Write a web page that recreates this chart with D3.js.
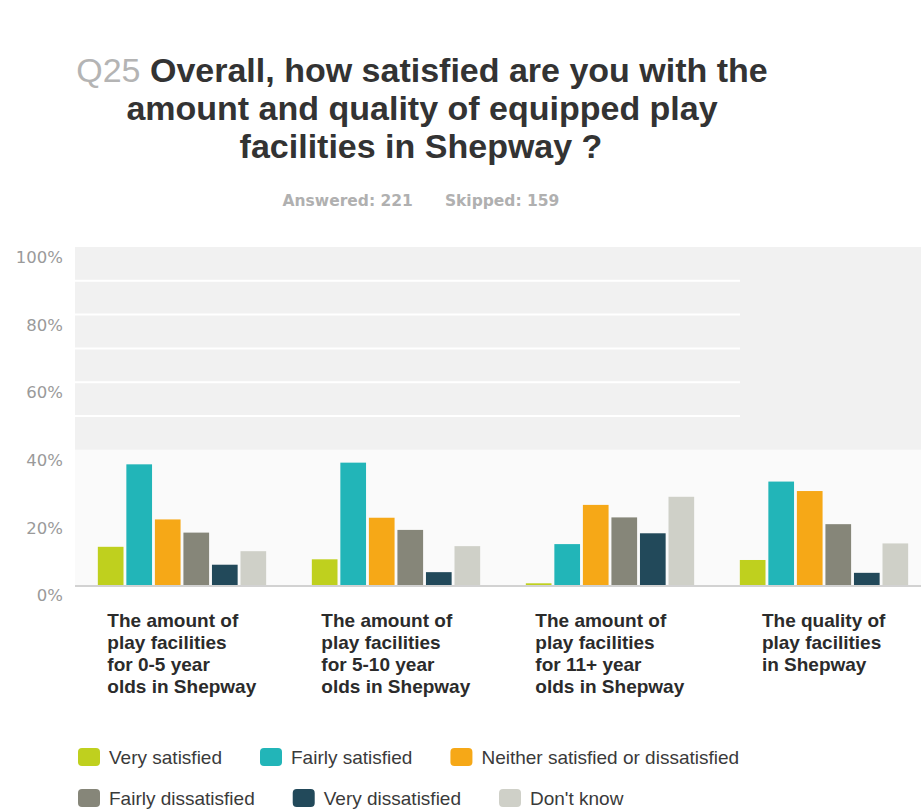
<!DOCTYPE html>
<html>
<head>
<meta charset="utf-8">
<script src="https://cdn.jsdelivr.net/npm/d3@7"></script>
<style>
  body { margin: 0; background: #fff; }
  svg { display: block; }
</style>
</head>
<body>
<svg id="chart" width="921" height="812"></svg>
<script>
// Survey question Q25: share of answers per facility group (percent)
const categories = [
  ["The amount of", "play facilities", "for 0-5 year", "olds in Shepway"],
  ["The amount of", "play facilities", "for 5-10 year", "olds in Shepway"],
  ["The amount of", "play facilities", "for 11+ year", "olds in Shepway"],
  ["The quality of", "play facilities", "in Shepway"]
];
const seriesNames = [
  "Very satisfied",
  "Fairly satisfied",
  "Neither satisfied or dissatisfied",
  "Fairly dissatisfied",
  "Very dissatisfied",
  "Don't know"
];
const verySatisfied      = [11.3,  7.6,  0.5,  7.4];
const fairlySatisfied    = [35.7, 36.2, 12.1, 30.6];
const neither            = [19.4, 19.9, 23.7, 27.8];
const fairlyDissatisfied = [15.5, 16.3, 20.0, 18.0];
const veryDissatisfied   = [ 6.0,  3.8, 15.3,  3.6];
const dontKnow           = [10.0, 11.5, 26.1, 12.3];
const yTicks = [0, 20, 40, 60, 80, 100];
const answered = 221;
const skipped = 159;

const seriesValues = [verySatisfied, fairlySatisfied, neither, fairlyDissatisfied, veryDissatisfied, dontKnow];
const colors = ["#bfd01e", "#22b5b8", "#f6a817", "#868679", "#22495a", "#cfd0c8"];

const svg = d3.select("#chart");
const sans = "'Liberation Sans', Arial, sans-serif";

// Title
const title = svg.append("g").attr("font-family", sans).attr("font-weight", "bold")
  .attr("font-size", 34).attr("fill", "#333").attr("text-anchor", "middle");
const t1 = title.append("text").attr("x", 422).attr("y", 82);
t1.append("tspan").attr("fill", "#b4b4b4").attr("font-weight", "normal").text("Q25 ");
t1.append("tspan").text("Overall, how satisfied are you with the");
title.append("text").attr("x", 422).attr("y", 120).text("amount and quality of equipped play");
title.append("text").attr("x", 421).attr("y", 158).text("facilities in Shepway ?");

// Response counts
const sub = svg.append("text").attr("x", 421).attr("y", 206)
  .attr("text-anchor", "middle").attr("font-family", "'DejaVu Sans', sans-serif")
  .attr("font-weight", "bold").attr("font-size", 15.5).attr("fill", "#b0b0b0");
sub.append("tspan").text("Answered: " + answered);
sub.append("tspan").attr("dx", 32).text("Skipped: " + skipped);

// Scales
const plotLeft = 75, plotRight = 931;
const x0 = d3.scaleBand().domain(d3.range(categories.length))
  .range([plotLeft, plotRight]).paddingInner(0.2).paddingOuter(0.1);
const x1 = d3.scaleBand().domain(d3.range(seriesNames.length))
  .range([0, x0.bandwidth()]).paddingInner(0.1).paddingOuter(0.05);
const y = d3.scaleLinear().domain([0, 100]).range([585, 247]);

// Plot background: shaded upper region with light grid lines
svg.append("rect")
  .attr("x", plotLeft).attr("y", y(100))
  .attr("width", 921 - plotLeft).attr("height", y(40) - y(100))
  .attr("fill", "#f1f1f1");
svg.append("rect")
  .attr("x", plotLeft).attr("y", y(40))
  .attr("width", 921 - plotLeft).attr("height", y(0) - y(40))
  .attr("fill", "#fafafa");
svg.append("g").selectAll("line").data([50, 60, 70, 80, 90]).join("line")
  .attr("x1", plotLeft).attr("x2", 740)
  .attr("y1", d => y(d)).attr("y2", d => y(d))
  .attr("stroke", "#fff").attr("stroke-width", 2);

// Baseline
svg.append("line").attr("x1", plotLeft).attr("x2", 921)
  .attr("y1", y(0) + 1).attr("y2", y(0) + 1)
  .attr("stroke", "#d2d2d2").attr("stroke-width", 2);

// Y axis
const yAxis = svg.append("g").attr("transform", "translate(63,0)")
  .call(d3.axisLeft(y).tickValues(yTicks).tickFormat(d => d + "%").tickSize(0).tickPadding(0));
yAxis.select(".domain").remove();
yAxis.selectAll("text")
  .attr("font-family", "'DejaVu Sans', sans-serif").attr("font-size", 16.5)
  .attr("fill", "#9a9a9a").attr("dy", "0.95em");

// Bars
const groups = svg.append("g").selectAll("g").data(categories).join("g")
  .attr("transform", (d, i) => `translate(${x0(i)},0)`);
groups.selectAll("rect")
  .data((d, i) => seriesValues.map((vals, s) => ({ s, v: vals[i] })))
  .join("rect")
  .attr("x", d => x1(d.s))
  .attr("y", d => y(d.v))
  .attr("width", x1.bandwidth())
  .attr("height", d => y(0) - y(d.v))
  .attr("fill", d => colors[d.s]);

// Category labels: left-aligned blocks centred under each group
categories.forEach((lines, i) => {
  const t = svg.append("text").attr("font-family", sans).attr("font-weight", "bold")
    .attr("font-size", 19).attr("fill", "#2b2b2b");
  lines.forEach((ln, k) => {
    t.append("tspan").attr("x", 0).attr("y", 627 + k * 22).text(ln);
  });
  const w = t.node().getBBox().width;
  t.attr("transform", `translate(${x0(i) + x0.bandwidth() / 2 - w / 2},0)`);
});

// Legend (two rows, flowing left to right)
const legendRows = [[0, 1, 2], [3, 4, 5]];
const legend = svg.append("g").attr("font-family", sans).attr("font-size", 19).attr("fill", "#3a3a3a");
legendRows.forEach((row, r) => {
  let cx = 78;
  const cy = 757 + r * 41;
  row.forEach(s => {
    legend.append("rect").attr("x", cx).attr("y", cy - 9).attr("width", 22).attr("height", 18)
      .attr("rx", 4).attr("fill", colors[s]);
    const txt = legend.append("text").attr("x", cx + 31).attr("y", cy + 7).text(seriesNames[s]);
    cx += 31 + txt.node().getComputedTextLength() + 38;
  });
});
</script>
</body>
</html>
